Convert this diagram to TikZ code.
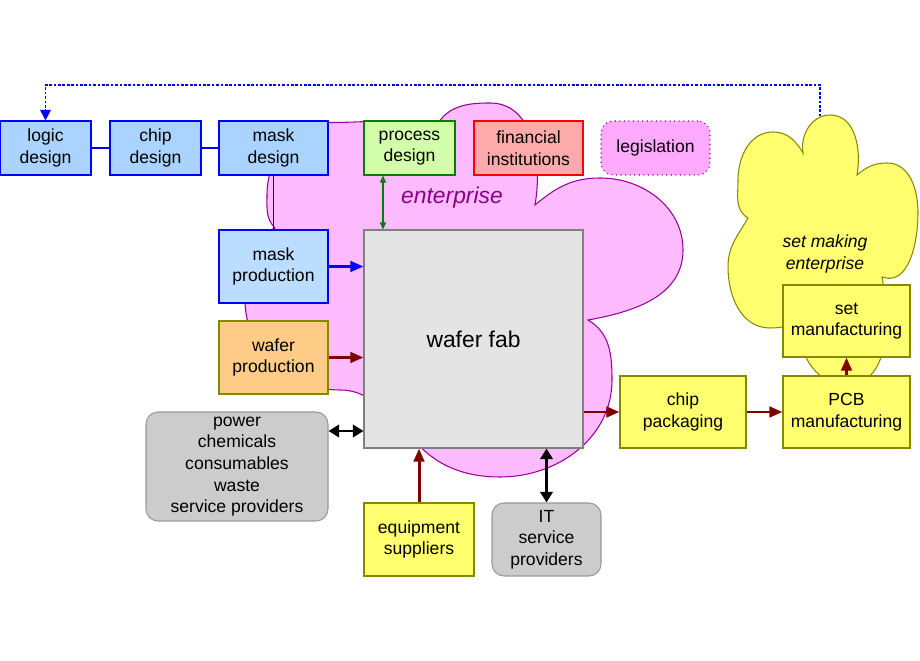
\documentclass[tikz,border=0pt]{standalone}
\usepackage{fontspec}
\setmainfont{Liberation Sans}
\usepackage{xcolor}
\usepackage{tikz}
\usetikzlibrary{arrows.meta}

\definecolor{designblue}{HTML}{AAD4FF}
\definecolor{prodblue}{HTML}{BBDDFF}
\definecolor{procgreen}{HTML}{D4FFAA}
\definecolor{finred}{HTML}{FFAAAA}
\definecolor{legpink}{HTML}{FFAAFF}
\definecolor{cloudpink}{HTML}{FFBBFF}
\definecolor{cloudline}{HTML}{990099}
\definecolor{entpurple}{HTML}{880088}
\definecolor{setyellow}{HTML}{FFFF70}
\definecolor{boxolive}{HTML}{888800}
\definecolor{waferorange}{HTML}{FFCC88}
\definecolor{fabgray}{HTML}{E4E4E4}
\definecolor{servgray}{HTML}{CCCCCC}
\definecolor{darkred}{HTML}{800000}

\begin{document}
\begin{tikzpicture}[
  box/.style={draw, line width=0.6pt, align=center, inner sep=1pt,
    font=\fontsize{10}{12.3}\selectfont},
  servbox/.style={box, fill=servgray, draw=gray!80, rounded corners=0.24cm},
  yelbox/.style={box, fill=setyellow, draw=boxolive},
  blueline/.style={draw=blue, line width=1.1pt},
  flow/.style={line width=1.7pt, -{Triangle[length=7.5pt,width=6pt]}},
  twoway/.style={line width=1.7pt, black,
    {Triangle[length=6pt,width=7pt]}-{Triangle[length=6pt,width=7pt]}}]
\useasboundingbox (0,0) rectangle (18.4,13.2);

% enterprise cloud
\filldraw[fill=cloudpink, draw=cloudline, line width=0.6pt]
  (5.5,8.64) to[out=200,in=90] (4.9,7.2) to[out=-90,in=180] (6.8,5.4)
  to[out=0,in=150] (8.0,4.8)
  to[out=-60,in=180] (10.0,3.66) to[out=0,in=-90] (12.24,5.6)
  to[out=90,in=-30] (11.76,6.8)
  to[out=10,in=-90] (13.66,8.2) to[out=90,in=0] (12.0,9.64)
  to[out=180,in=40] (10.7,9.1)
  to[out=80,in=0] (9.8,11.14) to[out=180,in=60] (8.74,10.7)
  to[out=170,in=0] (6.6,10.75) to[out=180,in=90] (5.34,9.3)
  to[out=-90,in=135] cycle;
\node[font=\fontsize{13}{15}\selectfont\itshape, text=entpurple] (ent) at (9.04,9.24) {enterprise};

% set making enterprise cloud
\filldraw[fill=setyellow, draw=boxolive, line width=0.6pt]
  (16.06,10.14) to[out=100,in=180] (16.6,10.9) to[out=0,in=80] (17.14,9.7)
  to[out=40,in=180] (17.74,9.94) to[out=0,in=90] (18.36,8.94)
  to[out=-90,in=-20] (17.64,7.66)
  to[out=-80,in=0] (16.92,5.5) to[out=180,in=-100] (16.0,6.9)
  to[out=-120,in=0] (15.4,6.64) to[out=180,in=-90] (14.56,7.86)
  to[out=90,in=-120] (14.96,8.84)
  to[out=150,in=-90] (14.76,9.6) to[out=90,in=180] (15.46,10.56)
  to[out=0,in=120] cycle;
\coordinate (settop) at (16.4,10.87);
\coordinate (turn) at (16.4,11.5);
\node[font=\fontsize{10}{12.3}\selectfont\itshape, align=center] (setent) at (16.5,8.12) {set making\\enterprise};

% design chain
\node[box, fill=designblue, draw=blue, minimum width=1.82cm, minimum height=1.08cm] (logic) at (0.91,10.24) {logic\\design};
\node[box, fill=designblue, draw=blue, minimum width=1.82cm, minimum height=1.08cm] (chip) at (3.11,10.24) {chip\\design};
\node[box, fill=designblue, draw=blue, minimum width=2.18cm, minimum height=1.08cm] (mask) at (5.47,10.24) {mask\\design};
\node[box, fill=procgreen, draw=green!50!black, minimum width=1.82cm, minimum height=1.08cm] (proc) at (8.19,10.24) {process\\design};
\node[box, fill=finred, draw=red, minimum width=2.18cm, minimum height=1.08cm] (fin) at (10.57,10.24) {financial\\institutions};
\node[box, fill=legpink, draw=entpurple, dotted, rounded corners=0.24cm, minimum width=2.18cm, minimum height=1.08cm] (legis) at (13.11,10.24) {legislation};

% fab and suppliers
\node[box, fill=prodblue, draw=blue, minimum width=2.18cm, minimum height=1.46cm] (maskprod) at (5.47,7.87) {mask\\production};
\node[box, fill=waferorange, draw=boxolive, minimum width=2.18cm, minimum height=1.46cm] (waferprod) at (5.47,6.05) {wafer\\production};
\node[box, fill=fabgray, draw=gray, minimum width=4.38cm, minimum height=4.36cm, font=\fontsize{13}{15}\selectfont] (fab) at (9.47,6.42) {wafer fab};
\node[servbox, minimum width=3.64cm, minimum height=2.18cm] (power) at (4.74,3.87) {power\\chemicals\\consumables\\waste\\service providers};
\node[yelbox, minimum width=2.2cm, minimum height=1.46cm] (equip) at (8.38,2.41) {equipment\\suppliers};
\node[servbox, minimum width=2.18cm, minimum height=1.46cm] (it) at (10.93,2.41) {IT\\service\\providers};
\node[yelbox, minimum width=2.52cm, minimum height=1.44cm] (pack) at (13.66,4.96) {chip\\packaging};
\node[yelbox, minimum width=2.54cm, minimum height=1.44cm] (pcb) at (16.93,4.96) {PCB\\manufacturing};
\node[yelbox, minimum width=2.54cm, minimum height=1.44cm] (setmfg) at (16.93,6.78) {set\\manufacturing};

% connectors
\draw[blueline] (logic) -- (chip);
\draw[blueline] (chip) -- (mask);
\draw[blueline] (mask) -- (maskprod);
\draw[flow, blue] (maskprod.east) -- (maskprod.east -| fab.west);
\draw[flow, darkred] (waferprod.east) -- (waferprod.east -| fab.west);
\draw[twoway] ([yshift=0.71cm]power.east) -- ([yshift=0.71cm]power.east -| fab.west);
\draw[flow, darkred] (equip.north) -- (equip.north |- fab.south);
\draw[twoway] (it.north) -- (it.north |- fab.south);
\draw[flow, darkred] (fab.east |- pack.west) -- (pack.west);
\draw[flow, darkred] (pack) -- (pcb);
\draw[flow, darkred] (pcb) -- (setmfg);
\draw[green!50!black, line width=0.6pt, {Triangle[length=4pt,width=3.5pt]}-{Triangle[length=4pt,width=3.5pt]}]
  ([xshift=-0.53cm]proc.south) -- ([xshift=-0.53cm]proc.south |- fab.north);
\draw[blue, line width=1.1pt, dash pattern=on 1.5pt off 1pt, -{Triangle[length=6pt,width=6pt]}]
  (settop) -- (turn) -| (logic.north);
\end{tikzpicture}
\end{document}
